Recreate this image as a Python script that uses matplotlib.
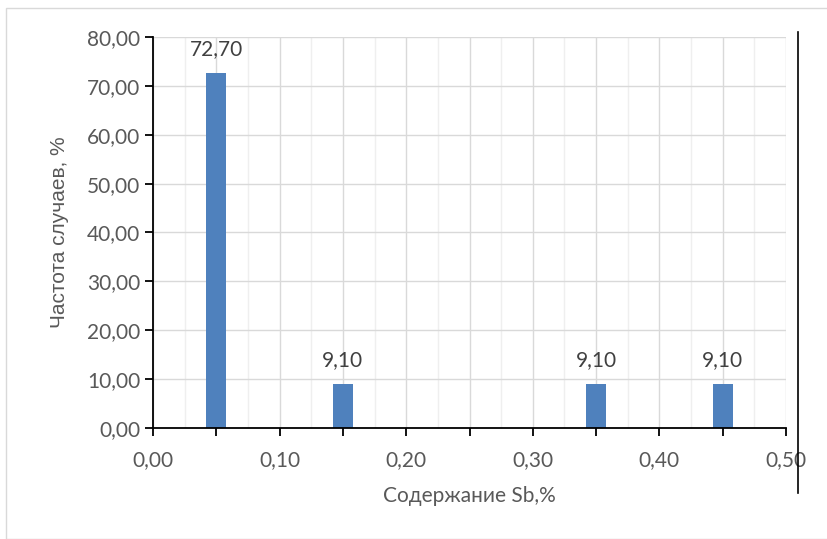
import matplotlib
matplotlib.use('Agg')
import matplotlib.pyplot as plt
from matplotlib.ticker import MultipleLocator, FuncFormatter
from matplotlib.lines import Line2D
from matplotlib.patches import Rectangle

# данные гистограммы
sb_content = [0.05, 0.15, 0.35, 0.45]
frequency = [72.70, 9.10, 9.10, 9.10]

X_LABEL = 'Содержание Sb,%'
Y_LABEL = 'Частота случаев, %'

BAR_COLOR = '#4f81bd'
TEXT_COLOR = '#595959'
FONT = ['Lato', 'DejaVu Sans']


def comma(v, _pos=None):
    return f'{v:.2f}'.replace('.', ',')


plt.rcParams['font.family'] = FONT

fig = plt.figure(figsize=(8.28, 5.39), dpi=100)
ax = fig.add_axes([0.1848, 0.2059, 0.7645, 0.7255])

ax.bar(sb_content, frequency, width=0.016, color=BAR_COLOR, zorder=3)
for x, y in zip(sb_content, frequency):
    ax.annotate(comma(y), (x, y), xytext=(0, 10), textcoords='offset points',
                ha='center', va='bottom', fontsize=15, color='#404040')

ax.set_xlim(0, 0.5)
ax.set_ylim(0, 80)
ax.xaxis.set_major_locator(MultipleLocator(0.05))
ax.xaxis.set_minor_locator(MultipleLocator(0.025))
ax.yaxis.set_major_locator(MultipleLocator(10))
ax.xaxis.set_major_formatter(FuncFormatter(lambda v, p: comma(v) if round(v / 0.05) % 2 == 0 else ''))
ax.yaxis.set_major_formatter(FuncFormatter(comma))

ax.grid(which='major', color='#d9d9d9', linewidth=1.0, zorder=0)
ax.grid(which='minor', axis='x', color='#efefef', linewidth=1.0, zorder=0)
ax.set_axisbelow(True)

for s in ('top', 'right'):
    ax.spines[s].set_visible(False)
for s in ('left', 'bottom'):
    ax.spines[s].set_color('black')
    ax.spines[s].set_linewidth(1.3)
    ax.spines[s].set_zorder(4)

ax.tick_params(which='major', direction='out', length=6, width=1.3, color='black',
               labelsize=15, labelcolor=TEXT_COLOR)
ax.tick_params(which='minor', length=0)
ax.tick_params(axis='x', pad=10)
ax.tick_params(axis='y', pad=3)

ax.set_xlabel(X_LABEL, fontsize=15, color=TEXT_COLOR, labelpad=11)
ax.set_ylabel(Y_LABEL, fontsize=15, color=TEXT_COLOR, labelpad=13,
              family=['Liberation Sans', 'DejaVu Sans'])

# рамка области диаграммы и вертикальная черта справа
fig.patches.append(Rectangle((6 / 828, 0), 1 - 6 / 828, 1 - 8 / 539, transform=fig.transFigure,
                             fill=False, edgecolor='#d9d9d9', linewidth=1.0))
fig.lines.append(Line2D([798 / 828, 798 / 828], [1 - 32 / 539, 1 - 493 / 539],
                        transform=fig.transFigure, color='black', linewidth=1.2))

fig.savefig('out.png', dpi=100)
